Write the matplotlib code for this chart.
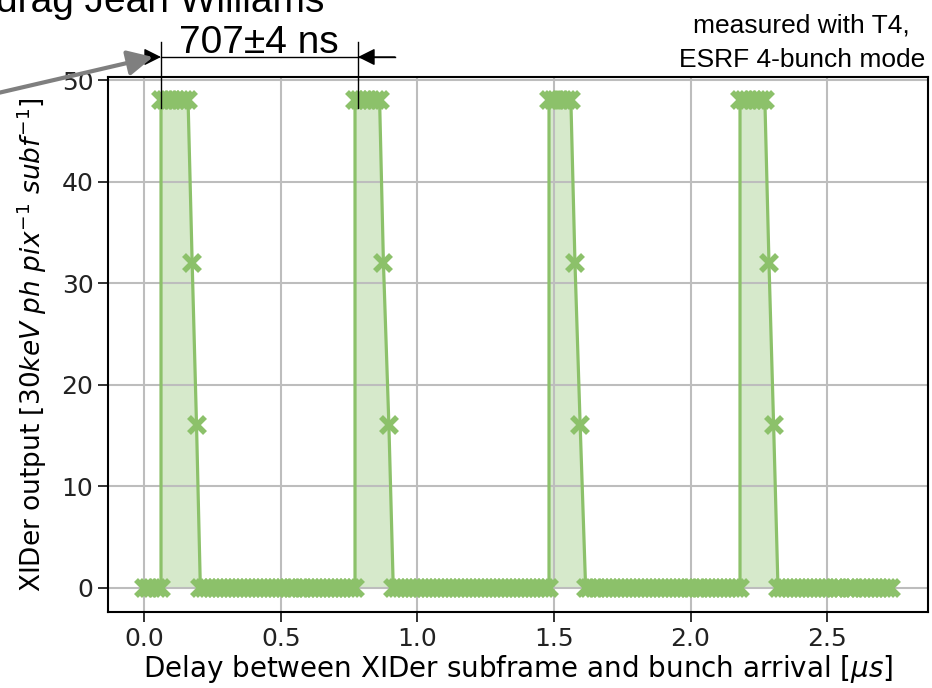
import matplotlib
matplotlib.use("Agg")
import matplotlib.pyplot as plt

# delay scan (us) and detector output
delay_us = [
    0.000, 0.015, 0.030, 0.046, 0.062,
    0.062, 0.076, 0.090, 0.104, 0.118, 0.133, 0.147, 0.161,
    0.176, 0.192, 0.206,
    0.221, 0.235, 0.250, 0.264, 0.279, 0.293, 0.308, 0.322, 0.337, 0.351,
    0.366, 0.380, 0.395, 0.409, 0.424, 0.438, 0.453, 0.467, 0.482, 0.496,
    0.511, 0.525, 0.540, 0.554, 0.569, 0.583, 0.598, 0.612, 0.627, 0.641,
    0.656, 0.670, 0.685, 0.699, 0.714, 0.728, 0.743, 0.757, 0.772,
    0.772, 0.787, 0.802, 0.817, 0.832, 0.847, 0.862,
    0.876, 0.896, 0.912,
    0.927, 0.941, 0.956, 0.970, 0.985, 1.000, 1.014, 1.029, 1.044, 1.058,
    1.073, 1.087, 1.102, 1.117, 1.131, 1.146, 1.161, 1.175, 1.190, 1.204,
    1.219, 1.234, 1.248, 1.263, 1.278, 1.292, 1.307, 1.321, 1.336, 1.351,
    1.365, 1.380, 1.394, 1.409, 1.424, 1.438, 1.453, 1.468, 1.482,
    1.482, 1.495, 1.509, 1.522, 1.535, 1.549, 1.562,
    1.577, 1.596, 1.616,
    1.630, 1.645, 1.659, 1.674, 1.688, 1.703, 1.717, 1.732, 1.746, 1.761,
    1.775, 1.790, 1.804, 1.819, 1.833, 1.848, 1.862, 1.877, 1.891, 1.906,
    1.920, 1.935, 1.949, 1.964, 1.978, 1.993, 2.007, 2.022, 2.036, 2.051,
    2.065, 2.080, 2.094, 2.109, 2.123, 2.138, 2.152, 2.167, 2.181,
    2.181, 2.196, 2.211, 2.227, 2.242, 2.257, 2.272,
    2.287, 2.304, 2.320,
    2.335, 2.350, 2.364, 2.379, 2.394, 2.409, 2.423, 2.438, 2.453, 2.468,
    2.482, 2.497, 2.512, 2.527, 2.541, 2.556, 2.571, 2.586, 2.600, 2.615,
    2.630, 2.645, 2.659, 2.674, 2.689, 2.704, 2.718, 2.733,
]
output = [
    0, 0, 0, 0, 0,
    48, 48, 48, 48, 48, 48, 48, 48,
    32, 16, 0,
    0, 0, 0, 0, 0, 0, 0, 0, 0, 0,
    0, 0, 0, 0, 0, 0, 0, 0, 0, 0,
    0, 0, 0, 0, 0, 0, 0, 0, 0, 0,
    0, 0, 0, 0, 0, 0, 0, 0, 0,
    48, 48, 48, 48, 48, 48, 48,
    32, 16, 0,
    0, 0, 0, 0, 0, 0, 0, 0, 0, 0,
    0, 0, 0, 0, 0, 0, 0, 0, 0, 0,
    0, 0, 0, 0, 0, 0, 0, 0, 0, 0,
    0, 0, 0, 0, 0, 0, 0, 0, 0,
    48, 48, 48, 48, 48, 48, 48,
    32, 16, 0,
    0, 0, 0, 0, 0, 0, 0, 0, 0, 0,
    0, 0, 0, 0, 0, 0, 0, 0, 0, 0,
    0, 0, 0, 0, 0, 0, 0, 0, 0, 0,
    0, 0, 0, 0, 0, 0, 0, 0, 0,
    48, 48, 48, 48, 48, 48, 48,
    32, 16, 0,
    0, 0, 0, 0, 0, 0, 0, 0, 0, 0,
    0, 0, 0, 0, 0, 0, 0, 0, 0, 0,
    0, 0, 0, 0, 0, 0, 0, 0,
]

GREEN = "#8cc16a"
W, H = 932, 688

fig = plt.figure(figsize=(W / 100, H / 100), dpi=100)
ax = fig.add_axes([108 / W, 1 - 612 / H, 820 / W, 535 / H])

ax.fill_between(delay_us, output, color=GREEN, alpha=0.35, lw=0)
ax.plot(delay_us, output, color=GREEN, lw=2.3, marker="x", ms=12, mew=4)

ax.grid(True, color="#bdbdbd", lw=1.5)
ax.set_xlim(-0.132, 2.869)
ax.set_ylim(-2.4, 50.3)
ax.set_xticks([0.0, 0.5, 1.0, 1.5, 2.0, 2.5])
ax.set_yticks([0, 10, 20, 30, 40, 50])
ax.tick_params(labelsize=18, length=7, width=1.3, colors="#222222")
for s in ax.spines.values():
    s.set_linewidth(1.5)

ax.set_xlabel(r"Delay between XIDer subframe and bunch arrival [$\mu s$]",
              fontsize=20, labelpad=2)
ax.set_ylabel(r"XIDer output [$30keV\ ph\ pix^{-1}\ subf^{-1}$]", fontsize=19)
ax.yaxis.set_label_coords((49 - 108) / 820, 0.5)

# slide annotations on top of the plot (figure pixels, origin bottom-left)
txt = dict(family="Liberation Sans", color="black")
fig.text(-4 / W, 1 - 12 / H, "drag Jean Williams", fontsize=28, va="baseline", **txt)
fig.text(259 / W, 1 - 53 / H, "707±4 ns", fontsize=28, ha="center", va="baseline", **txt)
fig.text(801 / W, 1 - 32 / H, "measured with T4,", fontsize=19, ha="center", va="baseline", **txt)
fig.text(802 / W, 1 - 67 / H, "ESRF 4-bunch mode", fontsize=19, ha="center", va="baseline", **txt)

yl = H - 57
for xv in (161, 358):
    fig.add_artist(plt.Line2D([xv / W, xv / W], [1 - 42 / H, 1 - 108 / H], color="black", lw=1))
fig.add_artist(plt.Line2D([161 / W, 395 / W], [yl / H, yl / H], color="black", lw=1))
arr = dict(arrowstyle="-|>", mutation_scale=26, color="black", lw=1, shrinkA=0, shrinkB=0)
ax.annotate("", xy=(161, yl), xytext=(136, yl), xycoords="figure pixels",
            textcoords="figure pixels", arrowprops=arr, annotation_clip=False)
ax.annotate("", xy=(358, yl), xytext=(395, yl), xycoords="figure pixels",
            textcoords="figure pixels", arrowprops=arr, annotation_clip=False)
ax.annotate("", xy=(153, H - 57), xytext=(-2, H - 93), xycoords="figure pixels",
            textcoords="figure pixels",
            arrowprops=dict(arrowstyle="-|>", mutation_scale=38, color="#7f7f7f", lw=3,
                            shrinkA=0, shrinkB=0),
            annotation_clip=False)

fig.savefig("out.png", dpi=100)
